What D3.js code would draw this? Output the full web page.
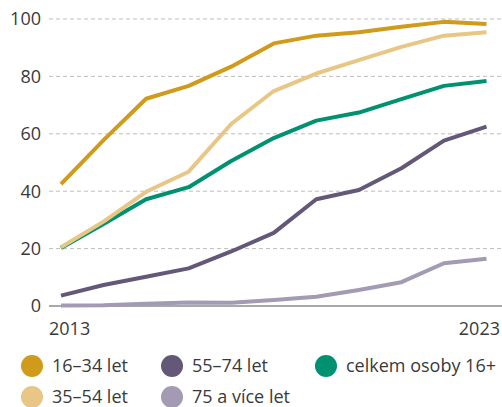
<!DOCTYPE html>
<html>
<head>
<meta charset="utf-8">
<script src="https://cdn.jsdelivr.net/npm/d3@7"></script>
<style>
  body { margin: 0; background: #fff; }
  svg text { font-family: "Open Sans", "Noto Sans", sans-serif; fill: #3a3a3a; }
</style>
</head>
<body>
<div id="chart-area"></div>
<script>
// data
var years = [2013, 2014, 2015, 2016, 2017, 2018, 2019, 2020, 2021, 2022, 2023];
var seriesNames = ['16–34 let', '35–54 let', '55–74 let', '75 a více let', 'celkem osoby 16+'];
var seriesColors = ['#d09a1a', '#e8c686', '#645878', '#a39ab3', '#009270'];
var age16_34 = [42.5, 57.8, 72.2, 76.7, 83.4, 91.5, 94.2, 95.4, 97.3, 99.0, 98.3];
var age35_54 = [20.5, 29.4, 39.8, 46.8, 63.4, 74.9, 81.0, 85.7, 90.3, 94.2, 95.4];
var age55_74 = [3.6, 7.3, 10.2, 13.1, 19.0, 25.5, 37.2, 40.4, 48.0, 57.6, 62.5];
var age75 = [0.2, 0.3, 0.8, 1.2, 1.1, 2.1, 3.2, 5.6, 8.3, 14.9, 16.5];
var total16 = [20.2, 28.6, 37.2, 41.4, 50.5, 58.5, 64.6, 67.4, 72.1, 76.7, 78.4];
var yTicks = [0, 20, 40, 60, 80, 100];

var values = [age16_34, age35_54, age55_74, age75, total16];
// drawing order (last on top)
var drawOrder = [4, 2, 3, 1, 0];

var width = 502, height = 407;
var margin = { left: 49, right: 0, top: 19, bottom: 101 };

var svg = d3.select('#chart-area')
    .append('svg')
        .attr('width', width)
        .attr('height', height);

var xScale = d3.scaleLinear().domain([2013, 2023]).range([61, 486.5]);
var yScale = d3.scaleLinear().domain([0, 100]).range([306, 19]);

// grid lines
svg.append('g')
    .selectAll('line')
    .data(yTicks.filter(function(d) { return d > 0; }))
    .enter().append('line')
        .attr('x1', margin.left)
        .attr('x2', width)
        .attr('y1', function(d) { return yScale(d); })
        .attr('y2', function(d) { return yScale(d); })
        .attr('stroke', '#bdbdbd')
        .attr('stroke-width', 1)
        .attr('stroke-dasharray', '4,3');

// y tick labels
svg.append('g')
    .selectAll('text')
    .data(yTicks)
    .enter().append('text')
        .attr('x', 41)
        .attr('y', function(d) { return yScale(d); })
        .attr('dy', '0.36em')
        .attr('text-anchor', 'end')
        .style('font-size', '18px')
        .text(function(d) { return d; });

// baseline
svg.append('line')
    .attr('x1', margin.left)
    .attr('x2', width)
    .attr('y1', yScale(0))
    .attr('y2', yScale(0))
    .attr('stroke', '#555')
    .attr('stroke-width', 1.2);

// x labels
svg.append('text')
    .attr('x', 49)
    .attr('y', 335)
    .style('font-size', '18px')
    .text(years[0]);
svg.append('text')
    .attr('x', 500)
    .attr('y', 335)
    .attr('text-anchor', 'end')
    .style('font-size', '18px')
    .text(years[years.length - 1]);

// lines
var line = d3.line()
    .x(function(d, i) { return xScale(years[i]); })
    .y(function(d) { return yScale(d); });

drawOrder.forEach(function(k) {
    svg.append('path')
        .datum(values[k])
        .attr('d', line)
        .attr('fill', 'none')
        .attr('stroke', seriesColors[k])
        .attr('stroke-width', 4)
        .attr('stroke-linejoin', 'round');
});

// legend
var legendPos = [
    { x: 32, y: 366 },   // 16-34
    { x: 32, y: 397 },   // 35-54
    { x: 172, y: 366 },  // 55-74
    { x: 172, y: 397 },  // 75+
    { x: 326, y: 366 }   // celkem
];

seriesNames.forEach(function(name, i) {
    var row = svg.append('g')
        .attr('transform', 'translate(' + legendPos[i].x + ',' + legendPos[i].y + ')');
    row.append('circle')
        .attr('r', 11)
        .attr('fill', seriesColors[i]);
    row.append('text')
        .attr('x', 20)
        .attr('dy', '0.36em')
        .style('font-size', '18px')
        .text(name);
});
</script>
</body>
</html>
